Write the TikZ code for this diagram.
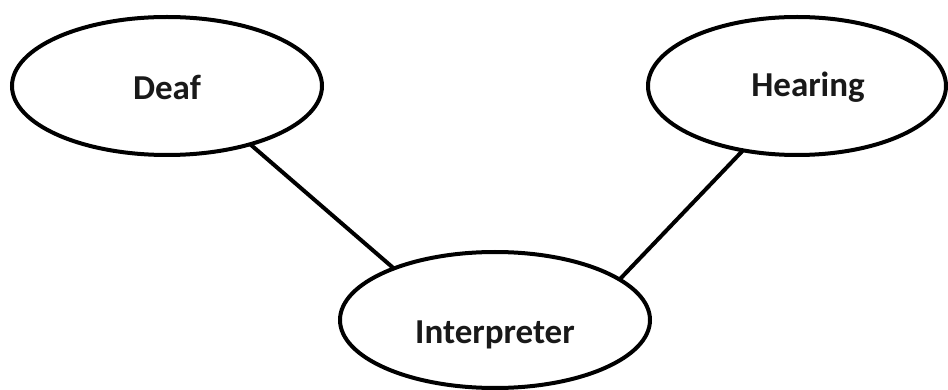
\documentclass[tikz,border=0pt]{standalone}
\usepackage{fontspec}
\setmainfont{Carlito}
\usetikzlibrary{shapes.geometric}
\tikzset{
  party/.style={draw=black, line width=4pt, ellipse, inner sep=0pt, outer sep=0pt,
    fill=white, font=\fontsize{35}{40}\selectfont\bfseries, text=black!90},
  link/.style={draw=black, line width=4pt}
}
\begin{document}
\begin{tikzpicture}[x=1pt,y=-1pt]
\useasboundingbox (0,0) rectangle (948,390);
\node[party, minimum width=310pt, minimum height=138pt] (deaf) at (167,86)
  {\raisebox{-14pt}[0pt][0pt]{Deaf}};
\node[party, minimum width=298pt, minimum height=138pt] (hearing) at (797,86)
  {\raisebox{-11pt}[0pt][0pt]{\hspace{22pt}Hearing}};
\node[party, minimum width=310pt, minimum height=136pt] (interp) at (495,320)
  {\raisebox{-23pt}[0pt][0pt]{Interpreter}};
\draw[link] (deaf.-35.4) -- (interp.153.7);
\draw[link] (hearing.-130.8) -- (interp.18.6);
\end{tikzpicture}
\end{document}
